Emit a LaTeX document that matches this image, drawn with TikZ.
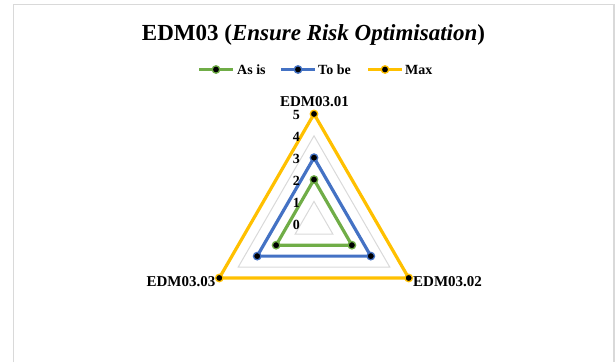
\documentclass[tikz,border=0pt]{standalone}
\usepackage{fontspec}
\setmainfont{Liberation Serif}
\definecolor{asis}{HTML}{70AD47}
\definecolor{tobe}{HTML}{4472C4}
\definecolor{maxc}{HTML}{FFC000}
\definecolor{gridc}{HTML}{D9D9D9}
\definecolor{framec}{HTML}{D9D9D9}
\begin{document}
\begin{tikzpicture}[x=1pt,y=-1pt,
  series/.style={line width=3.2pt,line join=round,draw=#1},
  marker/.style={circle,fill=black,draw=#1,line width=1.3pt,minimum size=7.5pt,inner sep=0pt},
  gridline/.style={draw=gridc,line width=1pt},
  catlbl/.style={font=\fontsize{15}{17}\selectfont\bfseries,inner sep=0pt},
  ticklbl/.style={font=\fontsize{14}{16}\selectfont\bfseries,inner sep=0pt,anchor=base east},
  legtext/.style={font=\fontsize{14}{16}\selectfont\bfseries,inner sep=0pt,anchor=base west}]
\useasboundingbox (0,0) rectangle (615,362);
% chart area frame
\draw[framec,line width=1.5pt] (13.5,362) -- (13.5,4.5) -- (614,4.5) -- (614,362);

% title
\node[anchor=base,inner sep=0pt,font=\fontsize{23}{26}\selectfont\bfseries] (title)
  at (313.5,40) {EDM03 (\textit{Ensure Risk Optimisation})};

% legend
\coordinate (leg1a) at (199,69.5); \coordinate (leg1b) at (233,69.5);
\coordinate (leg2a) at (281,69.5); \coordinate (leg2b) at (315,69.5);
\coordinate (leg3a) at (368,69.5); \coordinate (leg3b) at (402,69.5);
\draw[series=asis] (leg1a) -- (leg1b);
\node[marker=asis] (leg1m) at (216,69.5) {};
\node[legtext] (leg1t) at (237,74) {As is};
\draw[series=tobe] (leg2a) -- (leg2b);
\node[marker=tobe] (leg2m) at (298,69.5) {};
\node[legtext] (leg2t) at (318,74) {To be};
\draw[series=maxc] (leg3a) -- (leg3b);
\node[marker=maxc] (leg3m) at (385,69.5) {};
\node[legtext] (leg3t) at (405,74) {Max};

% radar rings: one triangle per level
\def\cx{314}\def\cy{223.3}\def\st{21.87}
\foreach \l in {1,...,5}{
  \coordinate (g\l-t) at ({\cx},{\cy-\l*\st});
  \coordinate (g\l-r) at ({\cx+0.8660*\l*\st},{\cy+0.5*\l*\st});
  \coordinate (g\l-l) at ({\cx-0.8660*\l*\st},{\cy+0.5*\l*\st});
}
\foreach \l in {1,...,5}
  \draw[gridline] (g\l-t) -- (g\l-r) -- (g\l-l) -- cycle;

% data series
\draw[series=asis] (g2-t) -- (g2-r) -- (g2-l) -- cycle;
\foreach \v in {t,r,l} \node[marker=asis] (asis-\v) at (g2-\v) {};
\draw[series=tobe] (g3-t) -- (g3-r) -- (g3-l) -- cycle;
\foreach \v in {t,r,l} \node[marker=tobe] (tobe-\v) at (g3-\v) {};
\draw[series=maxc] (g5-t) -- (g5-r) -- (g5-l) -- cycle;
\foreach \v in {t,r,l} \node[marker=maxc] (max-\v) at (g5-\v) {};

% scale values
\foreach \l in {0,...,5}
  \node[ticklbl] (tick\l) at ({300},{\cy-\l*\st+5.8}) {\l};

% category labels
\node[catlbl,anchor=base] (cat1) at (314.5,106) {EDM03.01};
\node[catlbl,anchor=base west] (cat2) at (413,286.7) {EDM03.02};
\node[catlbl,anchor=base east] (cat3) at (215.5,286.7) {EDM03.03};
\end{tikzpicture}
\end{document}
